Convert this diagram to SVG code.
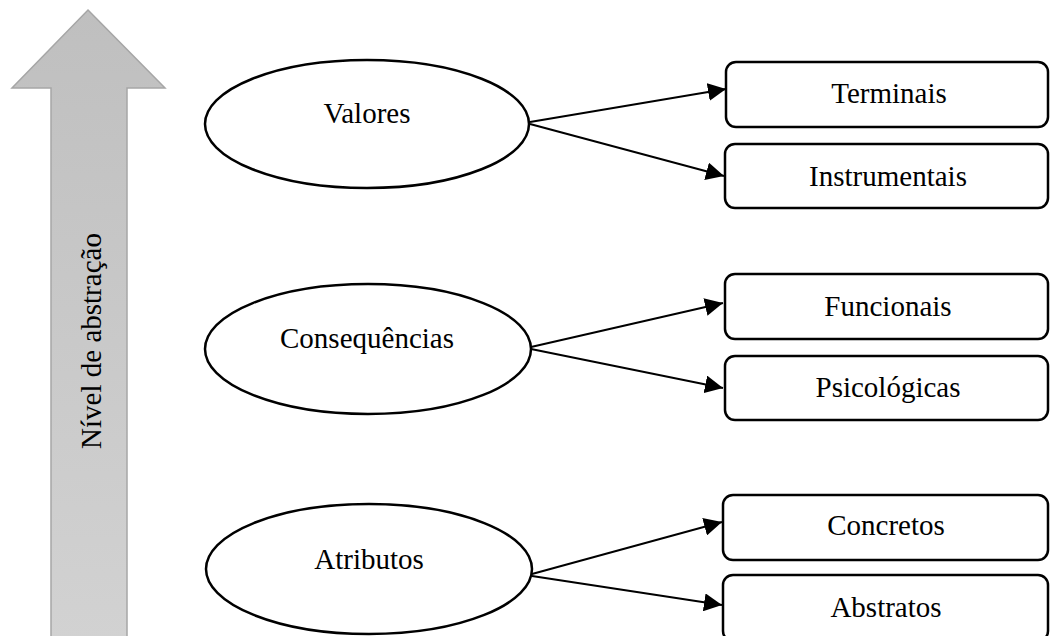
<svg xmlns="http://www.w3.org/2000/svg" width="1050" height="636" viewBox="0 0 1050 636">
  <style>
    .lbl { font-family: "Liberation Serif", "Times New Roman", serif; font-size: 29px; fill: #000; text-anchor: middle; }
    .ell { fill: #fff; stroke: #000; stroke-width: 2.5; }
    .box { fill: #fff; stroke: #000; stroke-width: 2.5; }
    .edge { stroke: #000; stroke-width: 2; fill: none; marker-end: url(#head); }
  </style>
  <defs>
    <linearGradient id="axisFill" x1="0" y1="0" x2="0" y2="1">
      <stop offset="0" stop-color="#bfbfbf"/>
      <stop offset="1" stop-color="#d2d2d2"/>
    </linearGradient>
    <marker id="head" markerUnits="userSpaceOnUse" markerWidth="19" markerHeight="18" refX="18" refY="9" orient="auto">
      <path d="M0,0 L18,9 L0,18 Z" fill="#000"/>
    </marker>
  </defs>

  <!-- abstraction axis -->
  <g id="axis">
    <path d="M88,10 L165,88 L127,88 L127,640 L51,640 L51,88 L12,88 Z" fill="url(#axisFill)" stroke="#a6a6a6" stroke-width="1.5"/>
    <text class="lbl" transform="translate(101,341) rotate(-90)">Nível de abstração</text>
  </g>

  <!-- connectors -->
  <g id="connectors">
    <line class="edge" x1="530" y1="122" x2="726" y2="89"/>
    <line class="edge" x1="530" y1="124" x2="724" y2="176"/>
    <line class="edge" x1="531" y1="347" x2="723" y2="303"/>
    <line class="edge" x1="531" y1="349" x2="723" y2="388"/>
    <line class="edge" x1="532" y1="574" x2="722" y2="522"/>
    <line class="edge" x1="532" y1="576" x2="722" y2="605"/>
  </g>

  <!-- levels -->
  <g id="valores">
    <ellipse class="ell" cx="367" cy="124" rx="162" ry="64"/>
    <text class="lbl" x="367" y="123">Valores</text>
  </g>
  <g id="consequencias">
    <ellipse class="ell" cx="368" cy="349" rx="163" ry="65"/>
    <text class="lbl" x="367" y="348">Consequências</text>
  </g>
  <g id="atributos">
    <ellipse class="ell" cx="369" cy="569" rx="163" ry="65"/>
    <text class="lbl" x="369" y="569">Atributos</text>
  </g>

  <!-- categories -->
  <g id="terminais">
    <rect class="box" x="726" y="62" width="322" height="65" rx="10"/>
    <text class="lbl" x="889" y="103">Terminais</text>
  </g>
  <g id="instrumentais">
    <rect class="box" x="725" y="144" width="323" height="64" rx="10"/>
    <text class="lbl" x="888" y="186">Instrumentais</text>
  </g>
  <g id="funcionais">
    <rect class="box" x="725" y="274" width="323" height="65" rx="10"/>
    <text class="lbl" x="888" y="316">Funcionais</text>
  </g>
  <g id="psicologicas">
    <rect class="box" x="725" y="356" width="323" height="64" rx="10"/>
    <text class="lbl" x="888" y="397">Psicológicas</text>
  </g>
  <g id="concretos">
    <rect class="box" x="723" y="495" width="325" height="65" rx="10"/>
    <text class="lbl" x="886" y="535">Concretos</text>
  </g>
  <g id="abstratos">
    <rect class="box" x="723" y="575" width="325" height="66" rx="10"/>
    <text class="lbl" x="886" y="617">Abstratos</text>
  </g>
</svg>
